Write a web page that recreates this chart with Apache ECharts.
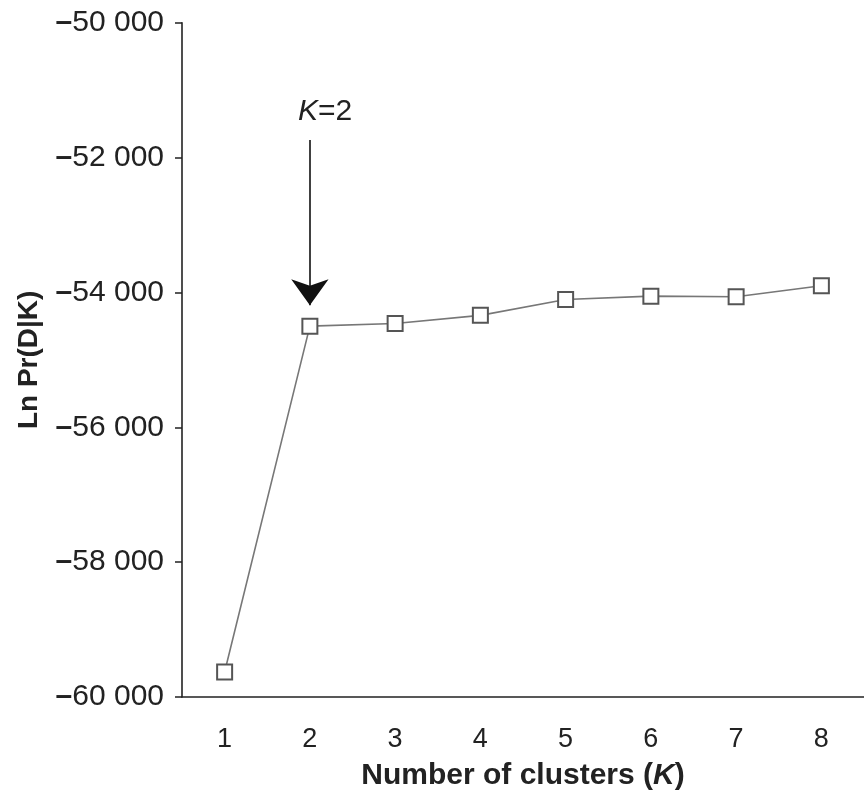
<!DOCTYPE html>
<html><head><meta charset="utf-8">
<script src="https://cdn.jsdelivr.net/npm/echarts@6/dist/echarts.min.js"></script>
<style>html,body{margin:0;padding:0;background:#fff}#c{width:864px;height:796px}</style>
</head><body><div id="c"></div>
<script>
const categories = ['1','2','3','4','5','6','7','8'];
const lnPr = [-59630, -54500, -54460, -54340, -54105, -54055, -54065, -53900];
const yMin = -60000, yMax = -50000, yStep = 2000;
const arrowFrom = ['2', -51740];
const arrowTo = ['2', -54190];

const FONT = 'Liberation Sans, Arial, Helvetica';
const fmt = v => '{m|\u2013}{n|' + String(Math.abs(v)).replace(/(\d+)(\d{3})$/, '$1 $2') + '}';
const chart = echarts.init(document.getElementById('c'));
chart.setOption({
  animation: false,
  backgroundColor: '#fff',
  grid: { left: 182, right: -8, top: 22.7, bottom: 99 },
  xAxis: {
    type: 'category', data: categories, boundaryGap: true,
    axisLine: { lineStyle: { color: '#222', width: 1.6 } },
    axisTick: { length: 7, lineStyle: { color: '#222', width: 1.5 } },
    axisLabel: { color: '#222', fontSize: 27, fontFamily: FONT, margin: 29 },
    name: '{b|Number of clusters (}{i|K}{b|)}', nameLocation: 'middle', nameGap: 64,
    nameTextStyle: { rich: {
      b: { fontSize: 30, fontWeight: 'bold', color: '#222', fontFamily: FONT },
      i: { fontSize: 30, fontWeight: 'bold', fontStyle: 'italic', color: '#222', fontFamily: FONT } } },
    splitLine: { show: false }
  },
  yAxis: {
    type: 'value', min: yMin, max: yMax, interval: yStep,
    axisLine: { show: true, lineStyle: { color: '#222', width: 1.6 } },
    axisTick: { show: true, length: 7, lineStyle: { color: '#222', width: 1.5 } },
    axisLabel: { formatter: fmt, margin: 18, rich: {
      m: { fontSize: 30, fontWeight: 'bold', color: '#222', fontFamily: FONT },
      n: { fontSize: 30, color: '#222', fontFamily: FONT } } },
    splitLine: { show: false },
    name: 'Ln Pr(D|K)', nameLocation: 'middle', nameGap: 139,
    nameTextStyle: { fontSize: 28, fontWeight: 'bold', color: '#222', fontFamily: FONT }
  },
  series: [{
    type: 'line', data: lnPr,
    symbol: 'rect', symbolSize: 15,
    lineStyle: { color: '#777', width: 1.6 },
    itemStyle: { color: '#fff', borderColor: '#555', borderWidth: 2 },
    markLine: {
      silent: true, symbol: ['none', 'arrow'], symbolSize: [28, 26],
      lineStyle: { color: '#111', width: 1.6, type: 'solid' },
      label: { show: false },
      data: [[{ coord: arrowFrom }, { coord: arrowTo }]]
    }
  }],
  graphic: []
});
const p = chart.convertToPixel({ gridIndex: 0 }, arrowFrom);
chart.setOption({ graphic: [{
  type: 'text', left: p[0] - 12, top: p[1] - 43,
  style: { rich: {
    i: { fontSize: 30, fontStyle: 'italic', fill: '#222', fontFamily: FONT },
    n: { fontSize: 30, fill: '#222', fontFamily: FONT } },
    text: '{i|K}{n|=2}' }
}] });
</script></body></html>
